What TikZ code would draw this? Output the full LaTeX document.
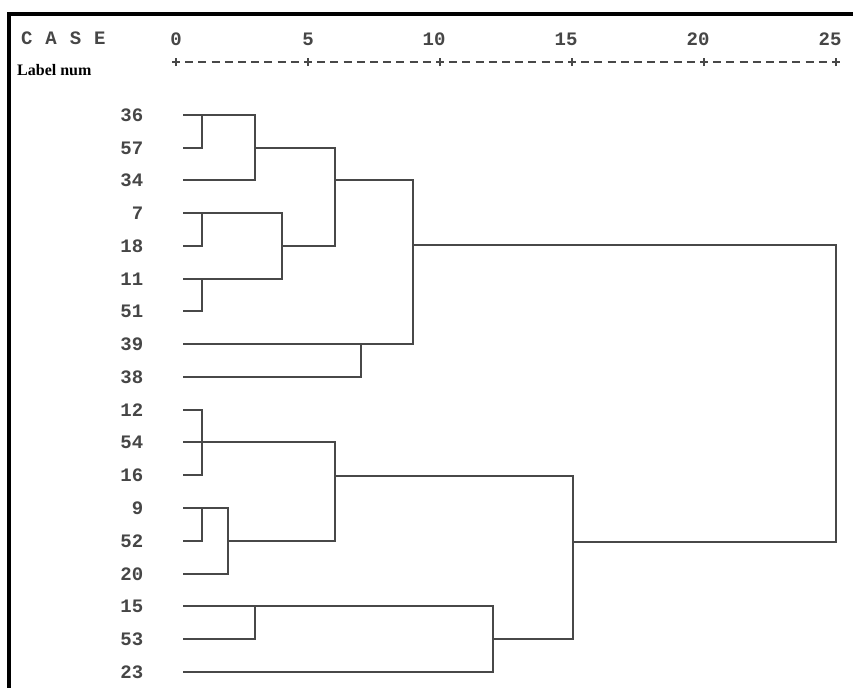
\documentclass[tikz,border=0pt]{standalone}
\usepackage{fontspec}
\setmonofont{Liberation Mono}
\newfontfamily\headserif{Liberation Serif}
\definecolor{linkgray}{RGB}{72,72,72}
\definecolor{txtgray}{RGB}{70,70,70}
% draw one merge: first child across, down the merge level, second child back
\newcommand\joinpair[3]{\draw[link] (#2) -- (#2 -| #1) -- (#3 -| #1) -- (#3);}
\begin{document}
\begin{tikzpicture}[x=1pt,y=-1pt,
  link/.style={draw=linkgray, line width=2.9pt, line join=miter},
  axisline/.style={draw=linkgray, line width=2.4pt, dash pattern=on 8pt off 5.2pt, dash phase=4pt},
  tickmark/.style={draw=linkgray, line width=2.4pt},
  monotext/.style={font=\ttfamily\bfseries\fontsize{19}{19}\selectfont, text=txtgray, inner sep=0pt},
  casenum/.style={monotext, anchor=east},
  axisnum/.style={monotext},
  labelhdr/.style={font=\headserif\bfseries\fontsize{16}{16}\selectfont, text=black, inner sep=0pt, anchor=west}]
\useasboundingbox (0,0) rectangle (853,688);

% frame edges (top and left only)
\fill[black] (7,12) rectangle (853,16);
\fill[black] (7,12) rectangle (11,688);

% headings
\node[monotext, anchor=west] (casehdr) at (21,38.5) {C\hspace{12.9pt}A\hspace{12.9pt}S\hspace{12.9pt}E};
\node[labelhdr] (labelnum) at (17,70) {Label num};

% rescaled distance axis
\foreach \k in {0,5,...,25} \coordinate (t\k) at ({176+26.4*\k},62);
\draw[axisline] (t0) -- (t25);
\foreach \k in {0,5,...,25} {
  \draw[tickmark] ([yshift=-4pt]t\k) -- ([yshift=4pt]t\k);
  \draw[tickmark] ([xshift=-4pt]t\k) -- ([xshift=4pt]t\k);
}
\node[axisnum] (s0) at (176,39) {0};
\node[axisnum] (s5) at (308,39) {5};
\node[axisnum, anchor=east] (s10) at (445.7,39) {10};
\node[axisnum, anchor=east] (s15) at (577.7,39) {15};
\node[axisnum, anchor=east] (s20) at (709.7,39) {20};
\node[axisnum, anchor=east] (s25) at (841.7,39) {25};

% case labels and leaf starts
\foreach \lab/\ry in {36/115,57/148,34/180,7/213,18/246,11/279,51/311,39/344,38/377,
                      12/410,54/442,16/475,9/508,52/541,20/574,15/606,53/639,23/672} {
  \node[casenum] (n\lab) at (143.5,\ry) {\lab};
  \coordinate (c\lab) at (183,\ry);
}

% merge levels (x = distance, y = row the joined cluster continues on)
\coordinate (mA) at (202,115);
\coordinate (mB) at (255,148);
\coordinate (mC) at (202,213);
\coordinate (mD) at (202,279);
\coordinate (mE) at (282,246);
\coordinate (mF) at (335,180);
\coordinate (mG) at (361,344);
\coordinate (mH) at (413,245);
\coordinate (mI) at (202,442);
\coordinate (mJ) at (202,508);
\coordinate (mK) at (228,541);
\coordinate (mL) at (335,476);
\coordinate (mM) at (255,606);
\coordinate (mN) at (493,639);
\coordinate (mO) at (573,542);
\coordinate (mR) at (836,400);

% upper cluster
\joinpair{mA}{c36}{c57}
\joinpair{mB}{mA}{c34}
\joinpair{mC}{c7}{c18}
\joinpair{mD}{c11}{c51}
\joinpair{mE}{mC}{mD}
\joinpair{mF}{mB}{mE}
\joinpair{mG}{c39}{c38}
\joinpair{mH}{mF}{mG}

% lower cluster
\joinpair{mI}{c12}{c16}
\draw[link] (c54) -- (c54 -| mI);
\joinpair{mJ}{c9}{c52}
\joinpair{mK}{mJ}{c20}
\joinpair{mL}{mI}{mK}
\joinpair{mM}{c15}{c53}
\joinpair{mN}{mM}{c23}
\joinpair{mO}{mL}{mN}

% final join
\joinpair{mR}{mH}{mO}
\end{tikzpicture}
\end{document}
